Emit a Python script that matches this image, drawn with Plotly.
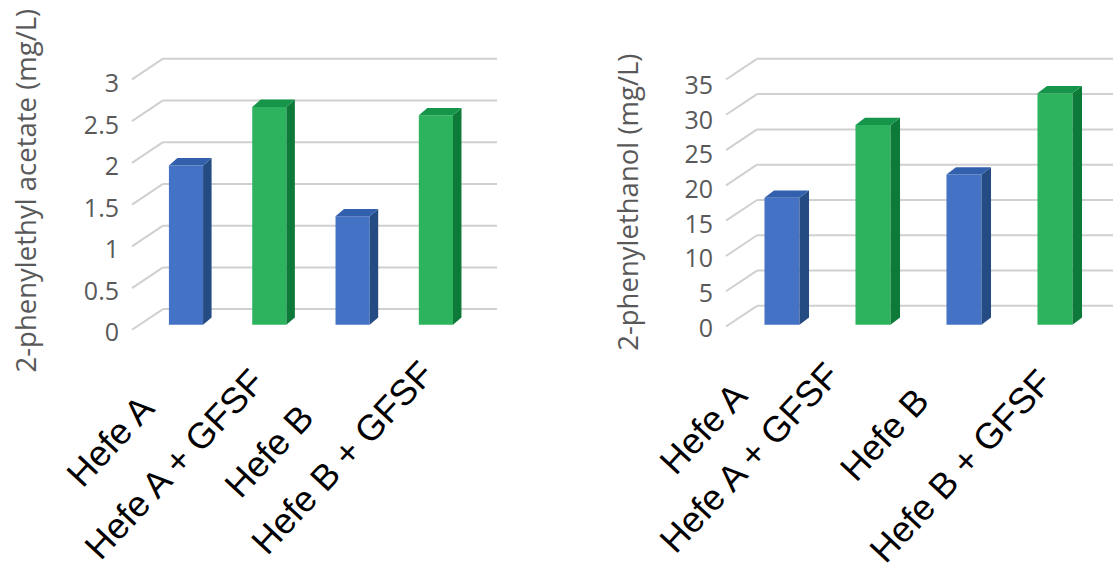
import plotly.graph_objects as go

# ---------------- data ----------------
categories = ["Hefe A", "Hefe A + GFSF", "Hefe B", "Hefe B + GFSF"]
acetate = [1.91, 2.61, 1.30, 2.51]          # 2-phenylethyl acetate (mg/L)
ethanol = [18.0, 28.3, 21.3, 32.8]          # 2-phenylethanol (mg/L)
acetate_ticks = [0, 0.5, 1, 1.5, 2, 2.5, 3]
ethanol_ticks = [0, 5, 10, 15, 20, 25, 30, 35]
acetate_title = "2-phenylethyl acetate (mg/L)"
ethanol_title = "2-phenylethanol (mg/L)"

# ---------------- styles ----------------
W, H = 1113, 579
front_cols = ["#4472C4", "#2DB35E", "#4472C4", "#2DB35E"]
top_cols = ["#3360AC", "#16954A", "#3360AC", "#16954A"]
side_cols = ["#244B82", "#0D7A3A", "#244B82", "#0D7A3A"]
grid_col = "#D0D0D0"
text_gray = "#595959"

def px(p):
    return p / W

def py(p):
    return 1 - p / H

# panel geometry (pixels)
panels = [
    dict(vals=acetate, ticks=acetate_ticks, title=acetate_title,
         x0=132, xback=163, x1=497, spacing=83.3, first=186,
         zero=330, ppu=84.8, front_zero=335, back_zero=314,
         lab_zero=338, lab_ppu=84.33, barw=0.41, depth_dx=8.5, depth_dy=7.5,
         title_pos=(25, 193.5),
         label_pos=[(109.5, 448), (174, 472), (268.5, 458.5), (342.5, 465)]),
    dict(vals=ethanol, ticks=ethanol_ticks, title=ethanol_title,
         x0=726, xback=757, x1=1113, spacing=91.0, first=782,
         zero=330, ppu=7.17, front_zero=331.7, back_zero=310.7,
         lab_zero=333, lab_ppu=7.037, barw=0.385, depth_dx=9.5, depth_dy=7.5,
         title_pos=(628, 206),
         label_pos=[(703, 435), (749.5, 465), (884, 441), (960, 473.5)]),
]

ytop, ybot = 50, 345

fig = go.Figure()
layout = dict(
    width=W, height=H, margin=dict(l=0, r=0, t=0, b=0),
    paper_bgcolor="white", plot_bgcolor="rgba(0,0,0,0)",
    showlegend=False, shapes=[], annotations=[],
)

def fmt(v):
    return "%g" % v

for i, p in enumerate(panels):
    n = i + 1
    xa = "x" if n == 1 else "x%d" % n
    ya = "y" if n == 1 else "y%d" % n
    lab_n = n + 2
    xkey = "xaxis" if n == 1 else "xaxis%d" % n
    ykey = "yaxis" if n == 1 else "yaxis%d" % n
    lkey = "yaxis%d" % lab_n

    xmin = -(p["first"] - p["x0"]) / p["spacing"]
    xmax = xmin + (p["x1"] - p["x0"]) / p["spacing"]
    ymin = -(ybot - p["zero"]) / p["ppu"]
    ymax = (p["zero"] - ytop) / p["ppu"]
    lmin = -(ybot - p["lab_zero"]) / p["lab_ppu"]
    lmax = (p["lab_zero"] - ytop) / p["lab_ppu"]

    layout[xkey] = dict(domain=[px(p["x0"]), px(p["x1"])], range=[xmin, xmax],
                        visible=False, anchor=ya)
    layout[ykey] = dict(domain=[py(ybot), py(ytop)], range=[ymin, ymax],
                        visible=False, anchor=xa)
    layout[lkey] = dict(overlaying=ya, anchor=xa, side="left", range=[lmin, lmax],
                        tickvals=p["ticks"], ticktext=[fmt(t) for t in p["ticks"]],
                        showgrid=False, zeroline=False, showline=False, ticks="",
                        ticklabelstandoff=12,
                        tickfont=dict(family="Open Sans", size=25, color=text_gray))

    # 3D gridlines (front edge slanting to the back wall)
    f_off = (p["zero"] - p["front_zero"]) / p["ppu"]
    b_off = (p["zero"] - p["back_zero"]) / p["ppu"]
    fb = (p["xback"] - p["x0"]) / (p["x1"] - p["x0"])
    for t in p["ticks"]:
        layout["shapes"].append(dict(type="line", xref=xa + " domain", yref=ya,
                                     x0=0, x1=fb, y0=t + f_off, y1=t + b_off,
                                     line=dict(color=grid_col, width=2), layer="below"))
        layout["shapes"].append(dict(type="line", xref=xa + " domain", yref=ya,
                                     x0=fb, x1=1, y0=t + b_off, y1=t + b_off,
                                     line=dict(color=grid_col, width=2), layer="below"))

    xs = list(range(len(categories)))
    vals = p["vals"]
    bw = p["barw"]
    ddx = p["depth_dx"] / p["spacing"]
    ddy = p["depth_dy"] / p["ppu"]

    # front faces
    fig.add_trace(go.Bar(x=xs, y=vals, width=bw, marker=dict(color=front_cols, line=dict(width=0)),
                         xaxis=xa, yaxis=ya, hoverinfo="skip"))
    # side & top faces
    for k, (x, v) in enumerate(zip(xs, vals)):
        xl, xr = x - bw / 2, x + bw / 2
        fig.add_trace(go.Scatter(
            x=[xr, xr, xr + ddx, xr + ddx, xr], y=[0, v, v + ddy, ddy, 0],
            fill="toself", fillcolor=side_cols[k], mode="lines", line=dict(width=0),
            xaxis=xa, yaxis=ya, hoverinfo="skip"))
        fig.add_trace(go.Scatter(
            x=[xl, xr, xr + ddx, xl + ddx, xl], y=[v, v, v + ddy, v + ddy, v],
            fill="toself", fillcolor=top_cols[k], mode="lines", line=dict(width=0),
            xaxis=xa, yaxis=ya, hoverinfo="skip"))

    # dummy trace on label axis so it renders
    fig.add_trace(go.Scatter(x=[None], y=[None], xaxis=xa, yaxis="y%d" % lab_n,
                             hoverinfo="skip"))

    # axis title
    tx, ty = p["title_pos"]
    layout["annotations"].append(dict(text=p["title"], x=px(tx), y=py(ty), xref="paper", yref="paper",
                                      textangle=-90, showarrow=False, xanchor="center", yanchor="middle",
                                      font=dict(family="Open Sans", size=27.5, color=text_gray)))
    # category labels
    for cat, (lx, ly) in zip(categories, p["label_pos"]):
        layout["annotations"].append(dict(text=cat, x=px(lx), y=py(ly), xref="paper", yref="paper",
                                          textangle=-47, showarrow=False, xanchor="center", yanchor="middle",
                                          font=dict(family="Liberation Sans, Arial", size=36, color="black")))

fig.update_layout(**layout)
fig.write_html("out.html")
